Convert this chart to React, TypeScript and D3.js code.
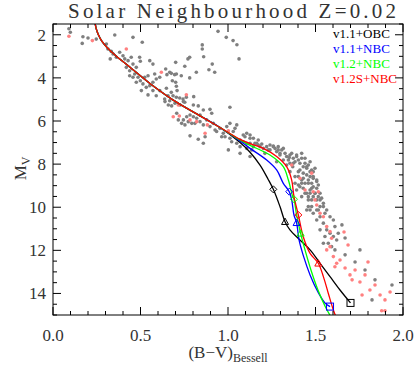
import React from "react";
import * as d3 from "d3";

// ---------- data ----------
const titleText = "Solar Neighbourhood Z=0.02";
const xTickValues = [0, 0.5, 1.0, 1.5, 2.0];
const xTickLabels = ["0.0", "0.5", "1.0", "1.5", "2.0"];
const yTickValues = [2, 4, 6, 8, 10, 12, 14];
const yTickLabels = ["2", "4", "6", "8", "10", "12", "14"];

const legendLabels = ["v1.1+OBC", "v1.1+NBC", "v1.2+NBC", "v1.2S+NBC"];
const seriesColors = ["#000000", "#0000ff", "#00ff00", "#ff0000"];

// field stars (B-V, Mv)
const starsGray: [number, number][] = [
  [0.091,1.72],[0.099,1.88],[0.171,2.09],[0.20,2.15],[0.167,2.40],[0.247,2.20],[0.353,2.01],[0.457,2.12],[0.51,2.35],[0.305,2.43],
  [0.314,2.66],[0.333,2.77],[0.343,2.89],[0.362,3.04],[0.327,3.12],[0.381,2.81],[0.40,2.97],[0.41,3.12],[0.429,3.20],[0.447,3.04],
  [0.495,3.04],[0.499,3.23],[0.457,3.36],[0.476,3.51],[0.419,3.51],[0.438,3.67],[0.467,3.82],[0.486,3.97],[0.499,4.13],[0.514,4.28],
  [0.533,4.44],[0.553,4.36],[0.571,4.20],[0.59,4.05],[0.581,3.82],[0.61,3.97],[0.571,3.36],[0.553,3.20],[0.571,4.59],[0.505,4.59],
  [0.543,4.79],[0.59,4.83],[0.61,4.59],[0.438,3.90],[0.457,3.97],[0.476,4.20],[0.524,3.97],[0.543,3.90],
  [0.943,1.84],[0.99,2.12],[1.029,2.27],[1.051,2.46],[1.063,3.12],[0.853,2.47],[0.853,2.66],[0.861,3.02],[0.781,3.04],[0.771,3.12],
  [0.701,3.28],[0.753,3.46],[0.91,3.36],[0.891,3.62],[0.924,3.74],[0.819,3.74],[0.644,3.59],[0.651,3.85],[0.667,3.74],[0.676,3.79],
  [0.695,3.85],[0.705,3.82],[0.733,3.90],[0.781,4.0],[0.682,4.13],[0.701,4.20],[0.705,4.39],[0.709,4.59],[0.648,4.48],[0.676,4.67],
  [0.657,4.83],[0.686,4.83],[0.705,4.90],[0.724,4.93],[0.743,4.98],[0.762,4.90],[0.804,4.87],[0.638,4.98],[0.667,5.06],[0.753,5.13],
  [0.64,5.10],[0.659,5.26],[0.678,5.30],[0.697,5.18],[0.726,5.26],[0.745,5.10],[0.802,5.26],[0.83,5.30],[0.859,5.49],[0.897,5.46],
  [0.907,5.64],[1.011,5.36],[0.84,5.72],[0.821,5.87],[0.802,5.80],[0.783,5.72],[0.764,5.80],[0.745,5.95],[0.735,6.11],[0.754,6.18],
  [0.773,6.03],[0.793,6.11],[0.811,6.11],[0.84,6.03],[0.859,6.18],[0.878,5.95],[0.897,6.26],[0.916,6.11],[0.926,6.42],[0.935,6.49],
  [0.954,6.34],[0.973,6.57],[0.993,6.26],[1.011,6.11],[1.05,6.18],[1.03,6.49],[1.04,6.34],[0.964,6.73],[0.983,6.73],[1.011,6.80],
  [1.069,6.88],[1.021,6.96],[1.05,7.03],[1.069,7.19],[1.097,6.73],[1.107,6.57],[1.126,6.65],[1.145,6.80],[1.126,7.03],[1.087,6.96],
  [1.107,7.27],[1.145,7.19],[1.164,7.03],[1.173,6.88],[1.126,7.65],[1.069,7.50],[1.002,7.34],[0.869,6.73],[0.783,6.69],[0.859,7.03],
  [0.83,6.85],[0.716,5.95],[0.707,5.64],
  [1.154,7.03],[1.173,7.11],[1.193,7.07],[1.202,7.27],[1.221,7.19],[1.23,7.34],[1.24,7.11],[1.259,7.16],[1.269,7.27],[1.278,7.42],
  [1.287,7.19],[1.297,7.58],[1.307,7.34],[1.316,7.27],[1.326,7.50],[1.335,7.65],[1.345,7.81],[1.354,7.58],[1.364,7.50],[1.373,7.73],
  [1.383,7.89],[1.392,7.65],[1.402,7.81],[1.411,7.96],[1.421,7.73],[1.43,8.12],[1.44,7.96],[1.45,8.19],[1.459,8.04],[1.469,7.89],
  [1.478,8.27],[1.487,8.35],[1.497,8.19],[1.411,8.27],[1.43,8.42],[1.45,8.50],[1.469,8.58],[1.402,8.58],[1.421,8.74],[1.44,8.89],
  [1.459,8.74],[1.478,8.89],[1.487,9.05],[1.507,9.12],[1.497,9.35],[1.516,9.51],[1.469,9.20],[1.45,9.35],[1.411,9.05],[1.43,9.12],
  [1.392,9.20],[1.459,9.51],[1.478,9.66],[1.421,9.51],[1.516,8.97],[1.526,9.35],[1.535,9.58],[1.354,7.96],[1.37,8.12],[1.487,8.66],
  [1.507,8.74],[1.402,8.97],[1.383,8.89],[1.35,7.69],
  [1.469,9.35],[1.487,9.51],[1.507,9.66],[1.526,9.97],[1.545,9.82],[1.564,10.13],[1.583,10.44],[1.602,10.59],[1.611,10.90],[1.526,10.44],
  [1.507,10.59],[1.545,10.74],[1.564,11.05],[1.583,11.21],[1.602,11.36],[1.621,11.52],[1.526,11.05],[1.554,11.36],[1.573,11.67],[1.592,11.83],
  [1.545,11.67],[1.611,11.98],[1.63,11.21],[1.507,10.13],[1.487,10.28],[1.469,10.13],[1.459,9.97],
  [1.669,12.21],[1.726,12.54],[1.783,12.91],[1.84,13.37],[1.937,13.61],[1.754,11.98],[1.823,14.30],[1.651,10.82],[1.669,11.43],
  [1.392,7.58],[1.421,7.50],[1.44,7.73],[1.45,8.12],[1.469,8.35],[1.487,8.58],[1.507,8.81],[1.459,8.89],[1.43,8.66],[1.478,9.12],
  [1.497,9.35],[1.526,9.66],[1.545,9.97],[1.516,10.13],[1.554,10.28],[1.373,7.96],[1.402,8.35],[1.421,8.89],[1.44,9.35],[1.459,9.66],
  [1.478,9.97],[1.45,10.13],[1.297,7.50],[1.316,7.81],[1.278,7.89],[1.335,8.04],[1.354,8.35],[1.383,8.58],
  [1.087,6.65],[1.126,6.80],[1.183,7.19],[1.107,7.03],[1.135,7.34],[1.211,7.50],[1.24,7.34],[1.259,7.19],[1.287,7.34]
];

const starsPink: [number, number][] = [
  [0.091,2.07],[0.225,2.27],[0.419,2.66],[0.619,3.74],[0.762,4.78],[0.687,5.80],[0.722,5.77],[0.783,5.95],[0.821,6.03],[0.882,6.18],
  [0.869,6.57],[1.002,6.46],[0.716,5.26],[1.364,8.04],[1.411,8.66],[1.487,9.28],[1.44,9.20],[1.516,9.28],[1.478,8.42],[1.507,9.90],
  [1.526,10.28],[1.545,10.44],[1.564,10.90],[1.583,11.13],[1.592,11.44],[1.602,12.29],[1.621,12.60],[1.611,12.76],[1.564,11.98],[1.583,11.83],
  [1.663,11.15],[1.686,11.75],[1.64,12.45],[1.669,12.82],[1.697,13.14],[1.726,12.91],[1.754,13.47],[1.783,13.14],[1.811,13.84],[1.84,13.61],
  [1.869,14.07],[1.897,14.30],[1.926,13.93],[1.709,13.37],[1.766,14.07],[1.80,12.54],[1.878,14.80],[1.897,14.80],[1.497,9.66]
];

// isochrones: shared upper main sequence, then individual lower parts
const upperMainSequence: [number, number][] = [
  [0.238,1.2],[0.240,1.41],[0.246,1.69],[0.26,2.01],[0.28,2.31],[0.314,2.64],[0.36,2.98],[0.421,3.38],
  [0.554,4.26],[0.687,5.03],[0.821,5.67],[0.954,6.30]
];
const lowerV11OBC: [number, number][] = [
  [1.069,7.0],[1.126,7.45],[1.183,8.05],[1.229,8.7],[1.259,9.17],[1.297,9.97],[1.326,10.67],[1.354,11.05],
  [1.411,11.52],[1.469,11.98],[1.526,12.6],[1.583,13.22],[1.64,13.84],[1.70,14.44]
];
const lowerV11NBC: [number, number][] = [
  [1.069,6.93],[1.126,7.27],[1.221,7.81],[1.278,8.27],[1.316,8.89],[1.35,9.28],[1.364,9.66],[1.377,10.36],[1.392,10.72],
  [1.406,11.52],[1.429,12.21],[1.469,13.14],[1.514,13.93],[1.554,14.44],[1.583,14.61]
];
const lowerV12NBC: [number, number][] = [
  [1.069,6.88],[1.126,7.13],[1.24,7.58],[1.316,8.12],[1.345,8.74],[1.37,9.51],[1.377,9.63],[1.392,10.36],[1.415,11.21],
  [1.44,11.98],[1.474,12.91],[1.514,13.84],[1.554,14.58],[1.589,15.1]
];
const lowerV12SNBC: [number, number][] = [
  [1.069,6.85],[1.126,7.05],[1.202,7.27],[1.278,7.65],[1.335,8.12],[1.364,8.74],[1.377,9.51],[1.402,10.36],[1.43,11.37],
  [1.469,12.14],[1.516,12.6],[1.545,13.22],[1.573,13.99],[1.602,14.77],[1.623,15.2]
];

// mass markers on isochrones: [B-V, Mv, series index]
const diamondMarkers: [number, number, number][] = [
  [1.259,9.17,0],[1.35,9.28,1],[1.377,9.63,2],[1.402,10.36,3]
];
const triangleMarkers: [number, number, number][] = [
  [1.326,10.67,0],[1.392,10.72,1],[1.415,11.21,2],[1.516,12.6,3]
];
const squareMarkers: [number, number, number][] = [
  [1.70,14.44,0],[1.583,14.61,1]
];

// ---------- layout ----------
const W = 415, H = 365;
const L = 53, R = 403, T = 24, B = 315;
const serif = "'Liberation Serif', 'DejaVu Serif', serif";
const textColor = "#333";

export default function App() {
  const x = d3.scaleLinear().domain([0, 2]).range([L, R]);
  const y = d3.scaleLinear().domain([1.5, 15]).range([T, B]);

  const line = d3.line<[number, number]>()
    .x(d => x(d[0])).y(d => y(d[1]))
    .curve(d3.curveCatmullRom.alpha(0.5));

  const curves = [lowerV11OBC, lowerV11NBC, lowerV12NBC, lowerV12SNBC].map(low =>
    [...upperMainSequence, ...low] as [number, number][]
  );

  const xMinor = d3.range(0, 2.0001, 0.1);
  const yMinor = d3.range(1.5, 15.0001, 0.5);

  const ticks: JSX.Element[] = [];
  xMinor.forEach((v, i) => {
    const major = xTickValues.some(t => Math.abs(t - v) < 1e-6);
    const len = major ? 8 : 4;
    const px = x(v);
    ticks.push(<line key={"xb" + i} x1={px} x2={px} y1={B} y2={B - len} stroke="#000" />);
    ticks.push(<line key={"xt" + i} x1={px} x2={px} y1={T} y2={T + len} stroke="#000" />);
  });
  yMinor.forEach((v, i) => {
    const major = yTickValues.some(t => Math.abs(t - v) < 1e-6);
    const len = major ? 8 : 4;
    const py = y(v);
    ticks.push(<line key={"yl" + i} x1={L} x2={L + len} y1={py} y2={py} stroke="#000" />);
    ticks.push(<line key={"yr" + i} x1={R} x2={R - len} y1={py} y2={py} stroke="#000" />);
  });

  const tri = (cx: number, cy: number, s: number) =>
    `M${cx},${cy - s}L${cx + s},${cy + s * 0.8}L${cx - s},${cy + s * 0.8}Z`;
  const dia = (cx: number, cy: number, s: number) =>
    `M${cx},${cy - s}L${cx + s},${cy}L${cx},${cy + s}L${cx - s},${cy}Z`;

  return (
    <svg width={W} height={H} style={{ position: "absolute", left: 0, top: 0, background: "#fff" }}
      xmlns="http://www.w3.org/2000/svg">
      <rect x={0} y={0} width={W} height={H} fill="#fff" />
      <defs>
        <clipPath id="plotClip">
          <rect x={L} y={T} width={R - L} height={B - T} />
        </clipPath>
      </defs>

      <text x={232} y={18} textAnchor="middle" fontFamily={serif} fontSize={21}
        textLength={328} lengthAdjust="spacing" fill={textColor}>{titleText}</text>

      <g clipPath="url(#plotClip)">
        {starsGray.map((d, i) => (
          <circle key={"g" + i} cx={x(d[0])} cy={y(d[1])} r={1.8} fill="#7f7f7f" />
        ))}
        {starsPink.map((d, i) => (
          <circle key={"p" + i} cx={x(d[0])} cy={y(d[1])} r={1.8} fill="#ff8080" />
        ))}
        {curves.map((c, i) => (
          <path key={"c" + i} d={line(c) || ""} fill="none" stroke={seriesColors[i]} strokeWidth={1.3} />
        ))}
        {diamondMarkers.map((d, i) => (
          <path key={"d" + i} d={dia(x(d[0]), y(d[1]), 3.5)} fill="none" stroke={seriesColors[d[2]]} strokeWidth={1} />
        ))}
        {triangleMarkers.map((d, i) => (
          <path key={"t" + i} d={tri(x(d[0]), y(d[1]), 3.5)} fill="none" stroke={seriesColors[d[2]]} strokeWidth={1} />
        ))}
        {squareMarkers.map((d, i) => (
          <rect key={"s" + i} x={x(d[0]) - 3.5} y={y(d[1]) - 3.5} width={7} height={7} fill="none"
            stroke={seriesColors[d[2]]} strokeWidth={1} />
        ))}
      </g>

      <rect x={L} y={T} width={R - L} height={B - T} fill="none" stroke="#000" strokeWidth={1} />
      {ticks}

      {xTickValues.map((v, i) => (
        <text key={"xl" + i} x={x(v)} y={341} textAnchor="middle" fontFamily={serif} fontSize={17} fill={textColor}>
          {xTickLabels[i]}
        </text>
      ))}
      {yTickValues.map((v, i) => (
        <text key={"yl" + i} x={46} y={y(v) + 6} textAnchor="end" fontFamily={serif} fontSize={17} fill={textColor}>
          {yTickLabels[i]}
        </text>
      ))}

      <text x={228} y={358} textAnchor="middle" fontFamily={serif} fontSize={17} fill={textColor}>
        (B−V)<tspan fontSize={12} dy={4}>Bessell</tspan>
      </text>
      <text transform={`translate(26,${y(8.2)}) rotate(-90)`} textAnchor="middle" fontFamily={serif} fontSize={17} fill={textColor}>
        M<tspan fontSize={12} dy={4}>V</tspan>
      </text>

      {legendLabels.map((s, i) => (
        <text key={"lg" + i} x={333} y={38 + i * 15} fontFamily={serif} fontSize={13} fill={seriesColors[i]}>
          {s}
        </text>
      ))}
    </svg>
  );
}
